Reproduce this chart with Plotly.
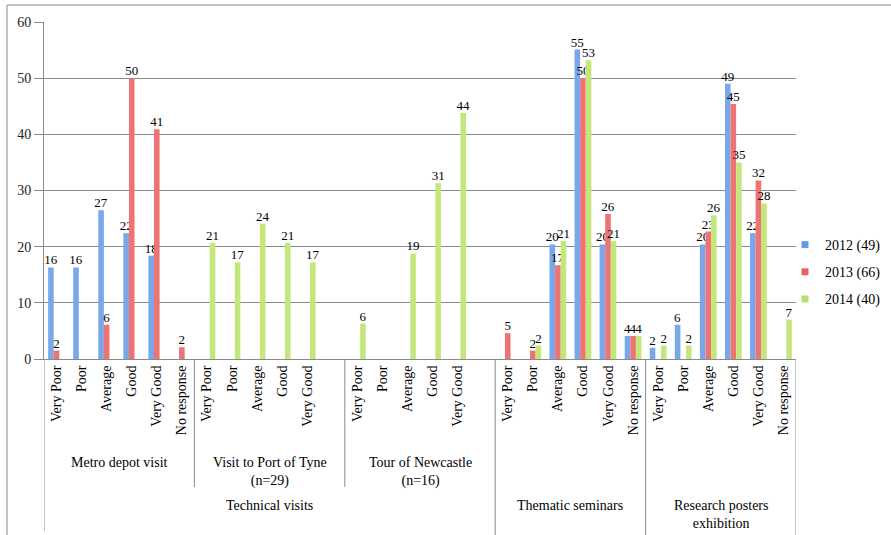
import plotly.graph_objects as go

# ---- data ----
categories = ["Very Poor", "Poor", "Average", "Good", "Very Good", "No response",   # Metro depot visit
              "Very Poor", "Poor", "Average", "Good", "Very Good", "",              # Visit to Port of Tyne
              "Very Poor", "Poor", "Average", "Good", "Very Good", "",              # Tour of Newcastle
              "Very Poor", "Poor", "Average", "Good", "Very Good", "No response",   # Thematic seminars
              "Very Poor", "Poor", "Average", "Good", "Very Good", "No response"]   # Research posters

s2012 = [16.3, 16.3, 26.5, 22.4, 18.4, None,
         None, None, None, None, None, None,
         None, None, None, None, None, None,
         None, None, 20.4, 55.1, 20.4, 4.1,
         2.0, 6.1, 20.4, 49.0, 22.4, None]
s2013 = [1.5, None, 6.1, 50.0, 40.9, 2.1,
         None, None, None, None, None, None,
         None, None, None, None, None, None,
         4.6, 1.5, 16.7, 50.0, 25.8, 4.1,
         None, None, 22.7, 45.4, 31.8, None]
s2014 = [None, None, None, None, None, None,
         20.7, 17.2, 24.1, 20.7, 17.2, None,
         6.3, None, 18.8, 31.3, 43.8, None,
         None, 2.4, 21.0, 53.2, 21.0, 4.1,
         2.4, 2.4, 25.6, 35.0, 27.7, 7.0]

series_names = ["2012 (49)", "2013 (66)", "2014 (40)"]
series_colors = ["#7aa6ea", "#ee7474", "#c4e77c"]
legend_colors = ["#6a98e2", "#e46262", "#b8de70"]

level2 = [("Metro depot visit", 0, 5), ("Visit to Port of Tyne<br>(n=29)", 6, 11),
          ("Tour of Newcastle<br>(n=16)", 12, 17)]
level3 = [("Technical visits", 0, 17), ("Thematic seminars", 18, 23),
          ("Research posters<br>exhibition", 24, 29)]

# ---- layout constants (pixels) ----
W, H = 891, 535
L, R, T, B = 44, 796, 22, 359
ph = B - T
pw = R - L


def py(p):
    return (B - p) / ph


def px(p):
    return (p - L) / pw


SERIF = "Liberation Serif, Times New Roman, serif"
GRID = "#8a8a8a"

fig = go.Figure()
xs = list(range(len(categories)))
for name, vals, col in zip(series_names, [s2012, s2013, s2014], series_colors):
    fig.add_trace(go.Bar(
        x=xs, y=vals, name=name, showlegend=False,
        marker=dict(color=col, line=dict(width=0)),
        texttemplate="%{y:.0f}", textposition="outside", constraintext="none",
        cliponaxis=False, textfont=dict(family=SERIF, size=13, color="#000000"),
        hoverinfo="skip",
    ))
# legend entries (small square keys, as in the reference)
for name, col in zip(series_names, legend_colors):
    fig.add_trace(go.Scatter(
        x=[None], y=[None], mode="markers", name=name, legendgroup=name,
        marker=dict(symbol="square", size=7, color=col), hoverinfo="skip",
    ))

shapes = []
# outer frame (top and left)
shapes.append(dict(type="line", xref="paper", yref="paper", x0=px(7), x1=px(891), y0=py(5), y1=py(5),
                   line=dict(color=GRID, width=1)))
shapes.append(dict(type="line", xref="paper", yref="paper", x0=px(7), x1=px(7), y0=py(5), y1=py(536),
                   line=dict(color=GRID, width=1)))
# short dividers (between level-2 groups)
for xv in [5.5, 11.5]:
    shapes.append(dict(type="line", xref="x", yref="paper", x0=xv, x1=xv, y0=0, y1=py(487),
                       line=dict(color=GRID, width=1)))
# long dividers
for xv, bot in [(-0.5, 531), (17.5, 536), (23.5, 536), (29.5, 536)]:
    shapes.append(dict(type="line", xref="x", yref="paper", x0=xv, x1=xv, y0=0, y1=py(bot),
                       line=dict(color=GRID, width=1)))

annotations = []
for text, a, b in level2:
    annotations.append(dict(text=text, x=(a + b) / 2, xref="x", y=py(453), yref="paper",
                            xanchor="center", yanchor="top", showarrow=False,
                            font=dict(family=SERIF, size=14, color="#000000")))
for text, a, b in level3:
    annotations.append(dict(text=text, x=(a + b) / 2, xref="x", y=py(496), yref="paper",
                            xanchor="center", yanchor="top", showarrow=False,
                            font=dict(family=SERIF, size=14, color="#000000")))

fig.update_layout(
    width=W, height=H,
    margin=dict(l=L, r=W - R, t=T, b=H - B, pad=0, autoexpand=False),
    paper_bgcolor="white", plot_bgcolor="white",
    barmode="group", bargap=0.33, bargroupgap=0,
    shapes=shapes, annotations=annotations,
    legend=dict(x=px(785), y=py(272), xanchor="left", yanchor="middle",
                font=dict(family=SERIF, size=14, color="#000000"),
                tracegroupgap=6, bgcolor="rgba(0,0,0,0)"),
    xaxis=dict(range=[-0.5, 29.5], tickmode="array", tickvals=xs, ticktext=categories,
               tickangle=-90, showgrid=False, zeroline=False, showline=True, linecolor=GRID,
               ticks="", tickfont=dict(family=SERIF, size=14, color="#000000"), fixedrange=True,
               automargin=False),
    yaxis=dict(range=[0, 60], dtick=10, showgrid=True, gridcolor=GRID, gridwidth=1,
               zeroline=False, showline=True, linecolor=GRID, mirror=False,
               ticks="outside", ticklen=9, tickcolor=GRID, automargin=False,
               tickfont=dict(family=SERIF, size=14, color="#222222")),
)
fig.write_html("out.html")
